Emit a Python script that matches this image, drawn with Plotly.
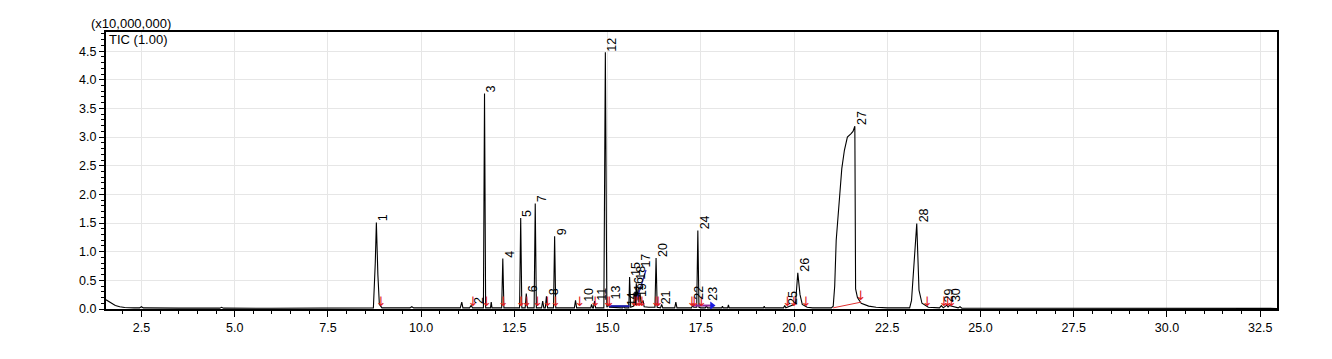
import plotly.graph_objects as go

# Chromatogram trace vertices: retention time (min) and intensity (x10,000,000)
rt = [1.55, 1.62, 1.70, 1.80, 1.92, 2.05, 2.30, 2.45, 2.50, 2.55, 3.50, 4.60, 4.65, 4.70, 6.00, 7.00,
      8.20, 8.50, 8.72, 8.77, 8.80, 8.84, 8.88, 8.95, 9.70, 9.75, 9.80,
      11.05, 11.09, 11.12, 11.30, 11.34, 11.38, 11.67, 11.70, 11.73, 11.86, 11.88, 11.90,
      12.16, 12.19, 12.22, 12.64, 12.67, 12.70, 12.79, 12.82, 12.85, 13.03, 13.06, 13.09,
      13.23, 13.26, 13.29, 13.33, 13.36, 13.39, 13.55, 13.58, 13.61,
      14.11, 14.14, 14.17, 14.55, 14.57, 14.60, 14.62, 14.65, 14.68, 14.90, 14.94, 14.98,
      15.02, 15.05, 15.40, 15.43, 15.46, 15.57, 15.59, 15.62, 15.70, 15.73, 15.75, 15.77,
      15.79, 15.82, 15.84, 15.87, 15.90, 15.95, 15.98, 16.10, 16.27, 16.30, 16.33,
      16.42, 16.45, 16.48, 16.80, 16.83, 16.86, 17.25, 17.28, 17.31, 17.39, 17.42, 17.45,
      17.50, 17.62, 17.65, 17.68, 18.06, 18.08, 18.10, 18.22, 18.24, 18.26, 19.18, 19.20,
      19.22, 19.72, 19.75, 19.78, 20.00, 20.04, 20.10, 20.16, 20.22, 20.35, 20.50,
      21.00, 21.05, 21.09, 21.13, 21.21, 21.28, 21.35, 21.43, 21.53, 21.58, 21.63,
      21.65, 21.70, 21.80, 22.00, 22.20, 22.50, 23.10, 23.15, 23.20, 23.25, 23.29,
      23.35, 23.43, 23.60, 23.90, 23.95, 24.00, 24.10, 24.13, 24.16, 24.40, 24.45,
      24.50, 33.00]
intensity = [0.16, 0.13, 0.09, 0.06, 0.04, 0.025, 0.02, 0.02, 0.04, 0.02, 0.015, 0.015, 0.03, 0.015, 0.012, 0.012,
             0.015, 0.02, 0.02, 0.80, 1.51, 0.60, 0.08, 0.02, 0.02, 0.04, 0.02,
             0.02, 0.12, 0.02, 0.02, 0.06, 0.02, 0.02, 3.76, 0.02, 0.02, 0.12, 0.02,
             0.02, 0.88, 0.02, 0.02, 1.59, 0.02, 0.02, 0.27, 0.02, 0.02, 1.84, 0.02,
             0.02, 0.14, 0.02, 0.02, 0.22, 0.02, 0.02, 1.27, 0.02,
             0.02, 0.15, 0.02, 0.02, 0.08, 0.02, 0.02, 0.14, 0.02, 0.02, 4.48, 0.03,
             0.08, 0.03, 0.02, 0.04, 0.02, 0.02, 0.56, 0.03, 0.05, 0.30, 0.10, 0.45,
             0.15, 0.35, 0.12, 0.28, 0.08, 0.15, 0.04, 0.03, 0.03, 0.89, 0.03,
             0.02, 0.08, 0.02, 0.02, 0.12, 0.02, 0.02, 0.06, 0.03, 0.03, 1.37, 0.03,
             0.02, 0.02, 0.05, 0.02, 0.02, 0.05, 0.02, 0.02, 0.07, 0.02, 0.02, 0.05,
             0.02, 0.02, 0.06, 0.02, 0.08, 0.10, 0.63, 0.25, 0.08, 0.03, 0.02,
             0.02, 0.05, 0.40, 1.20, 1.95, 2.45, 2.77, 3.00, 3.06, 3.10, 3.19,
             0.35, 0.20, 0.10, 0.05, 0.03, 0.02, 0.02, 0.15, 0.67, 1.20, 1.49,
             0.33, 0.10, 0.03, 0.02, 0.06, 0.02, 0.07, 0.03, 0.06, 0.02, 0.04,
             0.015, 0.01]

# Peak labels: number, retention time and label base height
peak_ids = [str(i) for i in range(1, 31)]
label_rt = [8.80, 11.37, 11.70, 12.19, 12.67, 12.82, 13.06, 13.36, 13.58, 14.33,
            14.64, 14.94, 15.04, 15.45, 15.59, 15.67, 15.85, 15.72, 15.72, 16.30,
            16.38, 17.27, 17.63, 17.42, 19.77, 20.10, 21.63, 23.29, 23.97, 24.15]
label_y = [1.51, 0.065, 3.76, 0.88, 1.59, 0.27, 1.84, 0.22, 1.27, 0.10,
           0.12, 4.48, 0.15, 0.04, 0.55, 0.29, 0.71, 0.50, 0.20, 0.89,
           0.065, 0.15, 0.12, 1.37, 0.06, 0.63, 3.19, 1.49, 0.10, 0.10]

# Integration markers (red arrows)
marker_rt = [8.92, 11.39, 11.75, 12.20, 12.68, 12.83, 13.12, 13.39, 13.60, 14.25, 14.67,
             15.00, 15.05, 15.72, 15.78, 15.85, 15.92, 16.30, 16.36, 17.26, 17.32, 17.52,
             19.82, 20.00, 20.32, 21.79, 23.57, 24.02, 24.12, 24.22]
marker_y = [0.0] * 30
marker_y[25] = 0.10

# Baselines
red_base_rt = [21.05, 21.80]
red_base_y = [0.02, 0.12]
blue_base1_rt = [15.04, 15.59]
blue_base1_y = [0.05, 0.05]
blue_base2_rt = [15.80, 16.03]
blue_base2_y = [0.20, 0.68]
purple_base_rt = [17.28, 17.80]
purple_base_y = [0.06, 0.06]

fig = go.Figure()
fig.add_trace(go.Scatter(x=rt, y=intensity, mode="lines",
                         line=dict(color="black", width=1.1), hoverinfo="skip"))
fig.add_trace(go.Scatter(x=red_base_rt, y=red_base_y, mode="lines",
                         line=dict(color="#e03030", width=1)))
fig.add_trace(go.Scatter(x=blue_base1_rt, y=blue_base1_y, mode="lines",
                         line=dict(color="#1a1aa8", width=2)))
fig.add_trace(go.Scatter(x=blue_base2_rt, y=blue_base2_y, mode="lines",
                         line=dict(color="#2a2ab8", width=1.3)))
fig.add_trace(go.Scatter(x=purple_base_rt, y=purple_base_y, mode="lines",
                         line=dict(color="#8a2a9a", width=2)))
fig.add_trace(go.Scatter(x=[purple_base_rt[-1]], y=[purple_base_y[-1]], mode="markers",
                         marker=dict(symbol="triangle-right", color="#1a1ae0", size=7)))
fig.add_trace(go.Scatter(x=marker_rt, y=marker_y, mode="text", text=["↓"] * len(marker_rt),
                         textposition="top center",
                         textfont=dict(family="DejaVu Sans", size=13, color="#e02020")))

for pid, x, y in zip(peak_ids, label_rt, label_y):
    fig.add_annotation(x=x, y=y, text=pid, showarrow=False, textangle=-90,
                       xanchor="center", yanchor="bottom", xshift=7, yshift=-1,
                       font=dict(family="Liberation Sans", size=12.5, color="black"))

fig.add_annotation(xref="paper", yref="paper", x=0, y=1, xshift=-17, yshift=-1,
                   xanchor="left", yanchor="bottom", text="(x10,000,000)", showarrow=False,
                   font=dict(family="Liberation Sans", size=13, color="black"))
fig.add_annotation(xref="paper", yref="paper", x=0, y=1, xshift=1, yshift=2,
                   xanchor="left", yanchor="top", text="TIC (1.00)", showarrow=False,
                   font=dict(family="Liberation Sans", size=13, color="black"))

fig.update_layout(
    width=1332, height=359,
    margin=dict(l=98, r=63, t=24, b=58),
    paper_bgcolor="white", plot_bgcolor="white",
    showlegend=False,
    font=dict(family="Liberation Sans", size=13, color="black"),
)
fig.update_xaxes(range=[1.55, 32.95], tick0=0, dtick=2.5, tickformat=".1f",
                 showline=True, linecolor="black", linewidth=2, mirror=True,
                 ticks="outside", ticklen=6, tickcolor="black", tickwidth=1,
                 showgrid=True, gridcolor="#e6e6e6", gridwidth=1, zeroline=False,
                 minor=dict(dtick=0.5, ticks="outside", ticklen=3, tickcolor="black", showgrid=False),
                 tickfont=dict(size=12.5))
fig.update_yaxes(range=[0, 4.834], tick0=0, dtick=0.5, tickformat=".1f",
                 showline=True, linecolor="black", linewidth=2, mirror=True,
                 ticks="outside", ticklen=5, tickcolor="black", tickwidth=1,
                 showgrid=True, gridcolor="#e6e6e6", gridwidth=1, zeroline=False,
                 minor=dict(dtick=0.1, ticks="outside", ticklen=3, tickcolor="black", showgrid=False),
                 tickfont=dict(size=12.5))

fig.write_html("out.html")
